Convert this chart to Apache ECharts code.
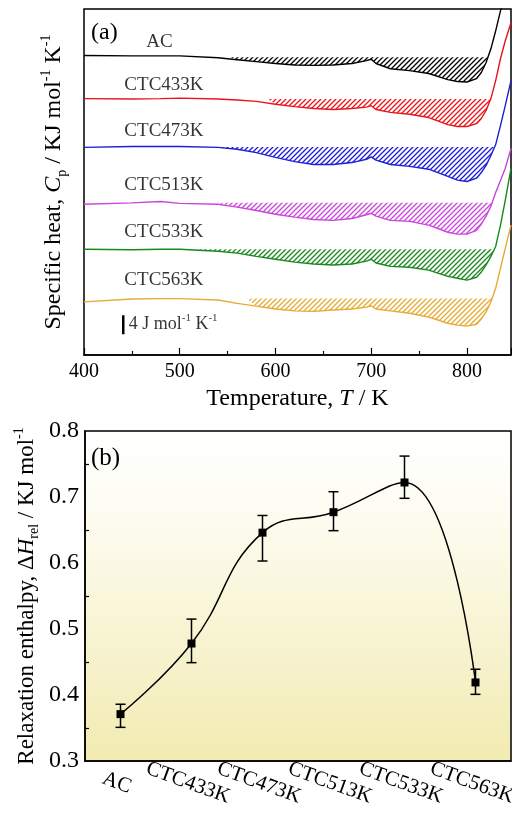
<!DOCTYPE html>
<html>
<head>
<meta charset="utf-8">
<script src="https://cdn.jsdelivr.net/npm/echarts@6/dist/echarts.min.js"></script>
<style>
  html, body { margin: 0; padding: 0; background: #fff; }
  #main { width: 512px; height: 817px; }
</style>
</head>
<body>
<div id="main"></div>
<script>
// ---- (a) DSC traces, Cp in J mol-1 K-1 (curves shifted vertically) ----
const temps = [400, 450, 480, 500, 540, 560, 580, 600, 620, 640, 660, 680, 695, 700, 705, 720, 740, 760, 780, 790, 800, 810, 815, 820, 825, 830, 835, 840, 846]
const names = ['AC', 'CTC433K', 'CTC473K', 'CTC513K', 'CTC533K', 'CTC563K']
const cpAC = [63.2, 63.1, 63.1, 63.1, 62.7, 62.3, 61.9, 61.5, 61.2, 61.1, 61.2, 61.5, 62.1, 62.4, 61.5, 60.4, 60.0, 59.4, 58.1, 57.7, 57.6, 58.3, 59.6, 61.7, 64.6, 68.4, 72.6, 76.8, 81.1]
const cp433 = [54.1, 54.0, 54.1, 54.2, 54.0, 53.8, 53.5, 52.9, 52.4, 52.0, 51.8, 52.0, 52.3, 52.6, 51.8, 51.2, 50.8, 50.1, 48.6, 48.2, 48.2, 48.8, 49.9, 51.6, 54.1, 57.9, 62.5, 66.3, 70.1]
const cp473 = [43.8, 44.0, 44.0, 44.0, 43.8, 43.4, 42.7, 41.7, 40.8, 40.2, 40.2, 40.6, 41.3, 41.8, 41.1, 40.2, 39.8, 39.2, 37.7, 36.9, 36.6, 37.3, 38.5, 40.0, 42.1, 44.4, 48.4, 52.6, 57.9]
const cp513 = [31.8, 32.1, 32.4, 32.0, 31.8, 31.2, 30.5, 29.7, 29.1, 28.6, 28.4, 28.8, 29.6, 29.9, 29.3, 28.4, 28.2, 27.4, 25.9, 25.5, 25.5, 26.3, 27.6, 29.3, 31.4, 34.3, 36.8, 39.4, 43.6]
const cp533 = [22.3, 22.2, 22.3, 22.3, 21.9, 21.5, 20.8, 20.2, 19.6, 19.2, 19.0, 19.2, 19.8, 20.2, 19.4, 18.7, 18.5, 17.9, 16.6, 16.2, 15.8, 16.4, 17.5, 19.0, 20.8, 22.9, 27.4, 32.6, 39.4]
const cp563 = [11.2, 11.8, 11.9, 11.9, 11.6, 10.9, 10.3, 9.7, 9.3, 9.2, 9.5, 9.7, 10.1, 10.4, 9.7, 9.3, 8.8, 8.0, 6.7, 6.3, 6.1, 6.5, 7.6, 9.1, 11.2, 14.1, 18.3, 22.5, 27.4]
// relaxation area: horizontal baseline and its temperature span
const hatchBase = [62.8, 54.0, 43.9, 32.1, 22.3, 11.9]
const hatchStart = [552, 592, 528, 539, 514, 570]
const hatchEnd = [822, 825, 829, 826, 829, 826]
const scaleBar = 4 // J mol-1 K-1

// ---- (b) relaxation enthalpy, KJ mol-1 ----
const samples = ['AC', 'CTC433K', 'CTC473K', 'CTC513K', 'CTC533K', 'CTC563K']
const dH = [0.371, 0.478, 0.646, 0.677, 0.722, 0.419]
const dHLow = [0.351, 0.449, 0.603, 0.649, 0.698, 0.401]
const dHHigh = [0.386, 0.515, 0.672, 0.708, 0.762, 0.439]

const curves = [cpAC, cp433, cp473, cp513, cp533, cp563]
const colors = ['#000000', '#e8141c', '#1d1dd6', '#cc44dd', '#18891c', '#e6ab34']
const labelDx = [15, -7, -7, -7, -7, -7]
const labelDy = [-13, -14, -15, -17, -17, -19]
const serif = '"Liberation Serif", "DejaVu Serif", serif'

const makeHatch = (color) => {
  const s = 5
  const c = document.createElement('canvas')
  c.width = s
  c.height = s
  const ctx = c.getContext('2d')
  ctx.strokeStyle = color
  ctx.lineWidth = 1.3
  ctx.beginPath()
  ctx.moveTo(0, s); ctx.lineTo(s, 0)
  ctx.moveTo(-1, 1); ctx.lineTo(1, -1)
  ctx.moveTo(s - 1, s + 1); ctx.lineTo(s + 1, s - 1)
  ctx.stroke()
  return c
}

const richText = (size) => ({
  t: { fontSize: size, fontFamily: serif, color: '#000', lineHeight: size + 6 },
  i: { fontSize: size, fontFamily: serif, fontStyle: 'italic', color: '#000', lineHeight: size + 6 },
  sub: { fontSize: Math.round(size * 0.6), fontFamily: serif, color: '#000', verticalAlign: 'bottom' },
  sup: { fontSize: Math.round(size * 0.6), fontFamily: serif, color: '#000', verticalAlign: 'top' }
})

const series = []
curves.forEach((cp, i) => {
  const pts = temps.map((t, k) => [t, cp[k]])
  const area = [[hatchStart[i], hatchBase[i]]]
    .concat(pts.filter(p => p[0] > hatchStart[i] && p[0] < hatchEnd[i]))
    .concat([[hatchEnd[i], hatchBase[i]]])
  series.push({
    name: names[i] + ' area',
    type: 'line',
    xAxisIndex: 0, yAxisIndex: 0,
    data: area,
    symbol: 'none',
    lineStyle: { width: 0 },
    areaStyle: { color: { image: makeHatch(colors[i]), repeat: 'repeat' }, origin: hatchBase[i], opacity: 1 },
    silent: true
  })
  series.push({
    name: names[i],
    type: 'line',
    xAxisIndex: 0, yAxisIndex: 0,
    data: pts,
    symbol: 'none',
    lineStyle: { color: colors[i], width: 1.4 },
    z: 3
  })
})

// curve names, pinned to each trace at 450 K
series.push({
  type: 'scatter',
  xAxisIndex: 0, yAxisIndex: 0,
  symbolSize: 1,
  itemStyle: { color: 'transparent' },
  data: curves.map((cp, i) => ({
    value: [temps[1], cp[1]],
    label: { show: true, formatter: names[i], position: [labelDx[i], labelDy[i]] }
  })),
  label: { align: 'left', verticalAlign: 'middle', fontFamily: serif, fontSize: 19, color: '#000' },
  silent: true
})

// scale bar
series.push({
  type: 'line',
  xAxisIndex: 0, yAxisIndex: 0,
  data: [[441, 4.4], [441, 4.4 + scaleBar]],
  symbol: 'none',
  lineStyle: { color: '#000', width: 2.5 },
  silent: true
})
series.push({
  type: 'scatter',
  xAxisIndex: 0, yAxisIndex: 0,
  symbolSize: 1,
  itemStyle: { color: 'transparent' },
  data: [{
    value: [441, 4.4 + scaleBar / 2],
    label: {
      show: true, position: [6, 0], align: 'left', verticalAlign: 'middle',
      formatter: '{t|' + scaleBar + ' J mol}{sup|-1}{t| K}{sup|-1}',
      rich: richText(18)
    }
  }],
  silent: true
})

// (b) smooth guide line with square markers
series.push({
  type: 'line',
  xAxisIndex: 1, yAxisIndex: 1,
  data: dH,
  smooth: 0.45,
  symbol: 'rect',
  symbolSize: 8,
  itemStyle: { color: '#000' },
  lineStyle: { color: '#000', width: 1.5 },
  z: 3
})
series.push({
  type: 'custom',
  xAxisIndex: 1, yAxisIndex: 1,
  data: samples.map((s, i) => [i, dHLow[i], dHHigh[i]]),
  renderItem: (params, api) => {
    const lo = api.coord([api.value(0), api.value(1)])
    const hi = api.coord([api.value(0), api.value(2)])
    const w = 5
    const st = { stroke: '#000', lineWidth: 1.5 }
    return {
      type: 'group',
      children: [
        { type: 'line', shape: { x1: lo[0], y1: lo[1], x2: hi[0], y2: hi[1] }, style: st },
        { type: 'line', shape: { x1: lo[0] - w, y1: lo[1], x2: lo[0] + w, y2: lo[1] }, style: st },
        { type: 'line', shape: { x1: hi[0] - w, y1: hi[1], x2: hi[0] + w, y2: hi[1] }, style: st }
      ]
    }
  },
  z: 4,
  silent: true
})

const mChart = echarts.init(document.getElementById('main'))
mChart.setOption({
  animation: false,
  backgroundColor: '#fff',
  grid: [
    {
      left: 84, right: 1, top: 9, height: 346, outerBoundsMode: 'none',
      show: true, borderColor: '#000', borderWidth: 1.5, backgroundColor: 'transparent'
    },
    {
      left: 85, right: 1, top: 431, height: 330, outerBoundsMode: 'none',
      show: true, borderColor: '#000', borderWidth: 1.5,
      backgroundColor: new echarts.graphic.LinearGradient(0, 0, 0, 1, [
        { offset: 0, color: '#ffffff' },
        { offset: 0.25, color: '#fdfcf1' },
        { offset: 1, color: '#f2ebb2' }
      ])
    }
  ],
  xAxis: [
    {
      gridIndex: 0, type: 'value', min: 400, max: 846, interval: 100,
      axisLine: { lineStyle: { color: '#000', width: 1.5 } },
      axisTick: { inside: true, length: 7, lineStyle: { color: '#000', width: 1.2 } },
      minorTick: { show: true, splitNumber: 2, length: 4, lineStyle: { color: '#000', width: 1.2 } },
      splitLine: { show: false },
      axisLabel: { fontFamily: serif, fontSize: 20, color: '#000', margin: 7, showMaxLabel: false },
      name: '{t|Temperature, }{i|T}{t| / K}',
      nameLocation: 'middle', nameGap: 29, nameMoveOverlap: false,
      nameTextStyle: { rich: richText(24) }
    },
    {
      gridIndex: 1, type: 'category', data: samples, boundaryGap: true,
      axisLine: { lineStyle: { color: '#000', width: 1.5 } },
      axisTick: { inside: true, alignWithLabel: true, length: 7, lineStyle: { color: '#000', width: 1.2 } },
      splitLine: { show: false },
      axisLabel: { fontFamily: serif, fontSize: 21, color: '#000', rotate: -20, margin: 12, align: 'center', verticalAlign: 'top', interval: 0 }
    }
  ],
  yAxis: [
    {
      gridIndex: 0, type: 'value', min: 0, max: 73,
      axisLine: { show: false }, axisTick: { show: false }, axisLabel: { show: false }, splitLine: { show: false },
      name: '{t|Specific heat, }{i|C}{sub|p}{t| / KJ mol}{sup|-1}{t| K}{sup|-1}',
      nameLocation: 'middle', nameGap: 15, nameMoveOverlap: false,
      nameTextStyle: { rich: richText(24) }
    },
    {
      gridIndex: 1, type: 'value', min: 0.3, max: 0.8, interval: 0.1,
      axisLine: { show: true, lineStyle: { color: '#000', width: 1.5 } },
      axisTick: { inside: true, length: 7, lineStyle: { color: '#000', width: 1.2 } },
      minorTick: { show: true, splitNumber: 2, length: 4, lineStyle: { color: '#000', width: 1.2 } },
      splitLine: { show: false },
      axisLabel: { fontFamily: serif, fontSize: 24, color: '#000', margin: 6 },
      name: '{t|Relaxation enthalpy, Δ}{i|H}{sub|rel}{t| / KJ mol}{sup|-1}',
      nameLocation: 'middle', nameGap: 44, nameMoveOverlap: false,
      nameTextStyle: { rich: richText(23) }
    }
  ],
  graphic: [
    { type: 'text', left: 91, top: 21, style: { text: '(a)', font: '24px ' + serif, fill: '#000' } },
    { type: 'text', left: 91, top: 446, style: { text: '(b)', font: '25px ' + serif, fill: '#000' } }
  ],
  series: series
})
</script>
</body>
</html>
